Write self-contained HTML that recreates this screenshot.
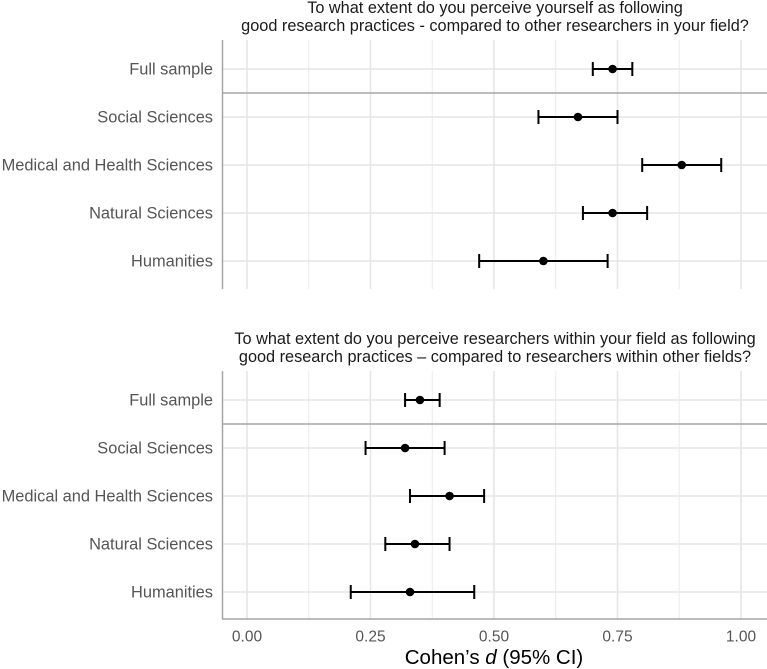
<!DOCTYPE html>
<html><head><meta charset="utf-8"><style>
body{margin:0;background:#fff}
svg{display:block;font-family:"Liberation Sans",Arial,sans-serif}
</style></head><body>
<svg id="chart" width="767" height="669" xmlns="http://www.w3.org/2000/svg"></svg>
<script>
const categories = ["Full sample","Social Sciences","Medical and Health Sciences","Natural Sciences","Humanities"];
const topEst = [0.74,0.67,0.88,0.74,0.60];
const topLow = [0.70,0.59,0.80,0.68,0.47];
const topHigh = [0.78,0.75,0.96,0.81,0.73];
const botEst = [0.35,0.32,0.41,0.34,0.33];
const botLow = [0.32,0.24,0.33,0.28,0.21];
const botHigh = [0.39,0.40,0.48,0.41,0.46];
const xTicks = [0,0.25,0.5,0.75,1];
const xTickLabels = ["0.00","0.25","0.50","0.75","1.00"];
const minorTicks = [0.125,0.375,0.625,0.875];

const NS="http://www.w3.org/2000/svg";
const svg=document.getElementById('chart');
function x(v){return 247+v*494;}
function mk(tag,attrs,parent){const e=document.createElementNS(NS,tag);for(const k in attrs)e.setAttribute(k,attrs[k]);(parent||svg).appendChild(e);return e;}

function panel(key,top,bottom,firstRow,titles,est,low,high){
  const g=mk('g',{});
  
  
  const y=i=>firstRow+i*48;
  minorTicks.forEach(t=>{const l=mk('line',{x1:x(t),x2:x(t),y1:top,y2:bottom,stroke:'#ececec','stroke-width':1},g);
    });
  xTicks.forEach(t=>{const l=mk('line',{x1:x(t),x2:x(t),y1:top,y2:bottom,stroke:'#e6e6e6','stroke-width':1.6},g);
    });
  categories.forEach((c,i)=>{
    const l=mk('line',{x1:222,x2:767,y1:y(i),y2:y(i),stroke:'#e6e6e6','stroke-width':1.6},g);
    
    const t=mk('text',{x:213,y:y(i)+5.5,'text-anchor':'end','font-size':16.4,fill:'#555'},g);
    t.textContent=c;
    
  });
  const sep=mk('line',{x1:222,x2:767,y1:y(0)+24,y2:y(0)+24,stroke:'#a6a6a6','stroke-width':1.5},g);
  
  const ax=mk('line',{x1:222.5,x2:222.5,y1:top,y2:bottom,stroke:'#a6a6a6','stroke-width':1.5},g);
  
  titles.forEach((s,k)=>{const t=mk('text',{x:495,y:(top-27)+k*18,'text-anchor':'middle','font-size':16.3,fill:'#1a1a1a'},g);
    t.textContent=s;});
  est.forEach((v,i)=>{
    const yy=y(i);
    const e=mk('path',{d:`M${x(low[i])},${yy}H${x(high[i])}M${x(low[i])},${yy-7}V${yy+7}M${x(high[i])},${yy-7}V${yy+7}`,stroke:'#000','stroke-width':2,fill:'none'},g);
    
    const p=mk('circle',{cx:x(v),cy:yy,r:4.3,fill:'#000'},g);
    
  });
}
panel('top',40,289,69,["To what extent do you perceive yourself as following","good research practices - compared to other researchers in your field?"],topEst,topLow,topHigh);
panel('bottom',371,619,400,["To what extent do you perceive researchers within your field as following"," good research practices \u2013 compared to researchers within other fields?"],botEst,botLow,botHigh);
const bx=mk('line',{x1:222,x2:767,y1:619,y2:619,stroke:'#a6a6a6','stroke-width':1.5});

xTicks.forEach((t,i)=>{const e=mk('text',{x:x(t),y:641.5,'text-anchor':'middle','font-size':15.5,fill:'#555'});
  e.textContent=xTickLabels[i];});
const xt=mk('text',{x:494,y:664,'text-anchor':'middle','font-size':20.5,fill:'#000'});

xt.innerHTML='Cohen\u2019s <tspan font-style="italic">d</tspan> (95% CI)';
</script>
</body></html>
